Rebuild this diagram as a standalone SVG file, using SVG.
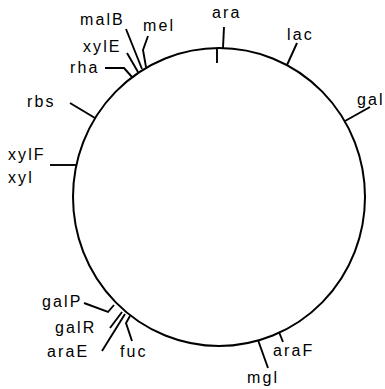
<svg xmlns="http://www.w3.org/2000/svg" width="385" height="389" viewBox="0 0 385 389">
<style>
  text { font-family: "Liberation Sans", Arial, sans-serif; font-size: 16px; letter-spacing: 2.1px; fill: #000; }
  .c { fill: none; stroke: #000; stroke-width: 2; }
  .l { fill: none; stroke: #000; stroke-width: 1.9; stroke-linejoin: miter; }
</style>
<rect width="385" height="389" fill="#fff"/>
<g id="chromosome"><ellipse class="c" cx="219" cy="197" rx="146" ry="149"/></g>
<g id="connectors">
  <path class="l" d="M224,27 L223,48"/>
  <path class="l" d="M217,49 L217,63"/>
  <path class="l" d="M297,43 L287,65"/>
  <path class="l" d="M370,107 L345,121"/>
  <path class="l" d="M126,29 L142,69"/>
  <path class="l" d="M148,36 L143,50 L146,67"/>
  <path class="l" d="M127,53 L138,72"/>
  <path class="l" d="M105,68 L124,68 L132,77"/>
  <path class="l" d="M70,103 L95,118"/>
  <path class="l" d="M50,165 L76,165"/>
  <path class="l" d="M84,303 L108,312 L114,305"/>
  <path class="l" d="M110,328 L122,312"/>
  <path class="l" d="M102,351 L125,314"/>
  <path class="l" d="M132,341 L126,323 L130,316"/>
  <path class="l" d="M283,342 L279,332"/>
  <path class="l" d="M268,368 L258,340"/>
</g>
<g id="ara"><text x="212" y="18">ara</text></g>
<g id="lac"><text x="287" y="40">lac</text></g>
<g id="gal"><text x="357" y="105">gal</text></g>
<g id="malB"><text x="80" y="25">malB</text></g>
<g id="mel"><text x="143" y="31">mel</text></g>
<g id="xylE"><text x="83" y="52">xylE</text></g>
<g id="rha"><text x="70" y="73">rha</text></g>
<g id="rbs"><text x="27" y="107">rbs</text></g>
<g id="xylF"><text x="8" y="160">xylF</text></g>
<g id="xyl"><text x="8" y="183">xyl</text></g>
<g id="galP"><text x="42" y="307">galP</text></g>
<g id="galR"><text x="55" y="333">galR</text></g>
<g id="araE"><text x="47" y="357">araE</text></g>
<g id="fuc"><text x="120" y="357">fuc</text></g>
<g id="araF"><text x="273" y="356">araF</text></g>
<g id="mgl"><text x="247" y="383">mgl</text></g>
</svg>
